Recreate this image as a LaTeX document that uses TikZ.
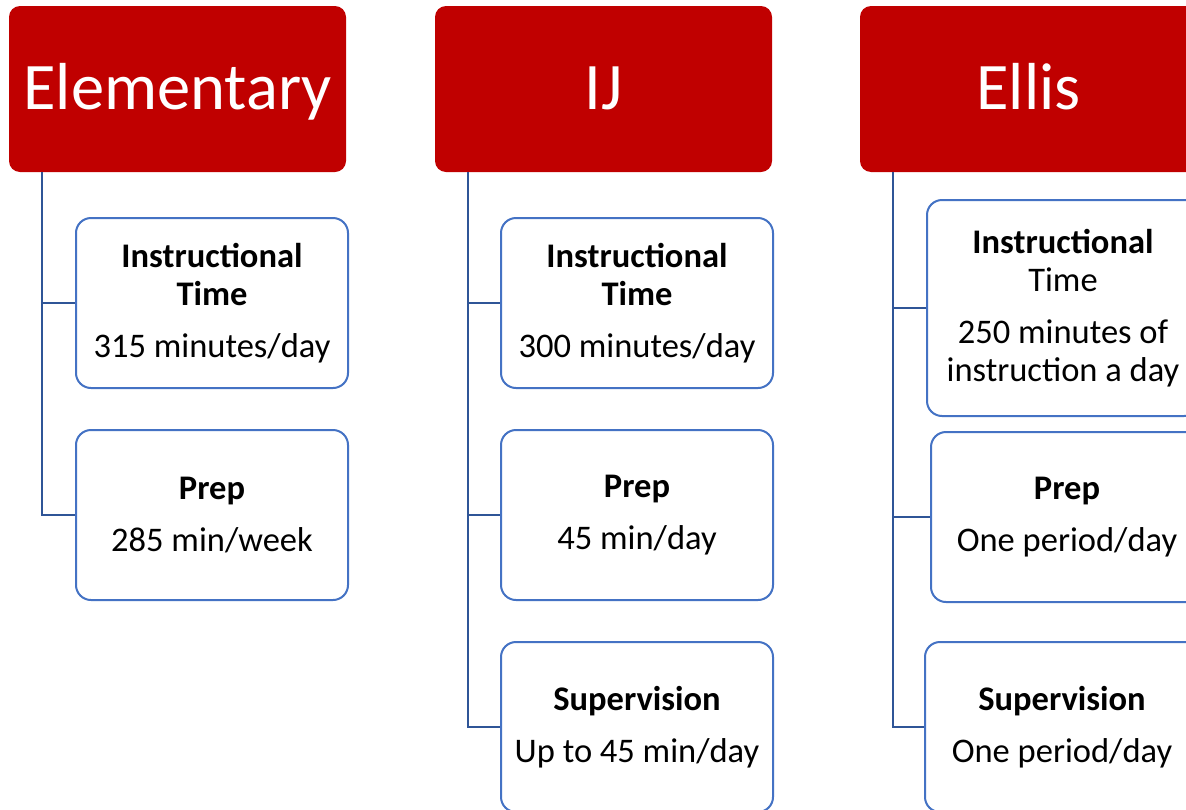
\documentclass[tikz,border=0pt]{standalone}
\usepackage{fontspec}
\setmainfont{Carlito}
\definecolor{hdrred}{HTML}{C00000}
\definecolor{boxblue}{HTML}{4472C4}
\definecolor{connblue}{HTML}{2F5597}
\begin{document}
\begin{tikzpicture}[x=1pt,y=-1pt,
  hdr/.style={fill=hdrred, rounded corners=11pt, minimum width=337pt, minimum height=166pt,
    text=white, font=\fontsize{66.5}{80}\selectfont, text height=40pt, text depth=0pt, inner sep=0pt},
  itembox/.style={draw=boxblue, line width=2pt, fill=white, rounded corners=15pt,
    minimum width=272pt, minimum height=170pt, align=center, inner sep=0pt,
    font=\fontsize{34.5}{38.5}\selectfont},
  conn/.style={draw=connblue, line width=2.2pt}]
\clip (0,0) rectangle (1186,809);
\fill[white] (0,0) rectangle (1186,809);

% headers
\node[hdr] (hElem) at (177.5,89) {Elementary};
\node[hdr] (hIJ) at (603.5,89) {IJ};
\node[hdr] (hEllis) at (1028.5,89) {Ellis};

% Elementary column
\node[itembox] (eInst) at (212,303) {\textbf{Instructional}\\\textbf{Time}\\[13pt]315 minutes/day};
\node[itembox] (ePrep) at (212,515) {\textbf{Prep}\\[13pt]285 min/week};

% IJ column
\node[itembox] (iInst) at (637,303) {\textbf{Instructional}\\\textbf{Time}\\[13pt]300 minutes/day};
\node[itembox] (iPrep) at (637,515) {\textbf{Prep}\\[13pt]45 min/day};
\node[itembox] (iSup) at (637,727) {\textbf{Supervision}\\[13pt]Up to 45 min/day};

% Ellis column
\node[itembox, minimum height=216pt] (lInst) at (1063,308) {\textbf{Instructional}\\Time\\[13pt]250 minutes of\\instruction a day};
\node[itembox] (lPrep) at (1067,517) {\textbf{Prep}\\[13pt]One period/day};
\node[itembox, minimum width=274pt] (lSup) at (1062,727) {\textbf{Supervision}\\[13pt]One period/day};

% connectors
\coordinate (eTop) at ([xshift=33pt]hElem.south west);
\coordinate (iTop) at ([xshift=33pt]hIJ.south west);
\coordinate (lTop) at ([xshift=33pt]hEllis.south west);
\draw[conn] (eTop) |- (eInst.west);
\draw[conn] (eTop) |- (ePrep.west);
\draw[conn] (iTop) |- (iInst.west);
\draw[conn] (iTop) |- (iPrep.west);
\draw[conn] (iTop) |- (iSup.west);
\draw[conn] (lTop) |- (lInst.west);
\draw[conn] (lTop) |- (lPrep.west);
\draw[conn] (lTop) |- (lSup.west);
\end{tikzpicture}
\end{document}
